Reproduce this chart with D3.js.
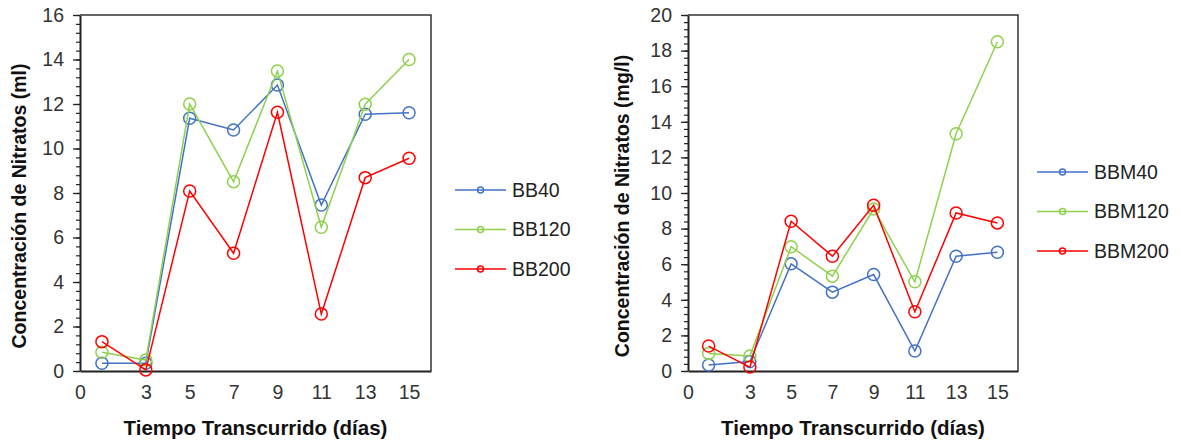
<!DOCTYPE html>
<html>
<head>
<meta charset="utf-8">
<script src="https://cdn.jsdelivr.net/npm/d3@7"></script>
<style>
  body { margin: 0; background: #fff; }
  svg { font-family: "Liberation Sans", Arial, sans-serif; }
</style>
</head>
<body>
<svg id="chart" width="1180" height="442"></svg>
<script>
const days = [1, 3, 5, 7, 9, 11, 13, 15];
const xTickLabels = [0, 3, 5, 7, 9, 11, 13, 15];

// left panel (ml)
const leftNames = ['BB40', 'BB120', 'BB200'];
const bb40 = [0.35, 0.35, 11.36, 10.83, 12.85, 7.46, 11.54, 11.61];
const bb120 = [0.84, 0.49, 12.0, 8.51, 13.48, 6.46, 11.99, 14.0];
const bb200 = [1.32, 0.05, 8.09, 5.29, 11.63, 2.56, 8.69, 9.56];
const leftYTicks = [0, 2, 4, 6, 8, 10, 12, 14, 16];

// right panel (mg/l)
const rightNames = ['BBM40', 'BBM120', 'BBM200'];
const bbm40 = [0.34, 0.53, 6.02, 4.43, 5.42, 1.12, 6.45, 6.67];
const bbm120 = [0.99, 0.84, 6.98, 5.33, 9.1, 5.01, 13.33, 18.5];
const bbm200 = [1.40, 0.22, 8.41, 6.45, 9.31, 3.33, 8.88, 8.32];
const rightYTicks = [0, 2, 4, 6, 8, 10, 12, 14, 16, 18, 20];

const colors = ['#4472C4', '#8FD14F', '#FF0000'];

const svg = d3.select('#chart');

const drawPanel = (cfg) => {
    const { left, right, top, bottom, yMax, yTicks, series, names, yTitle, titleX, legendX, legendY } = cfg;

    const x = d3.scaleLinear().domain([0, 16]).range([left, right]);
    const y = d3.scaleLinear().domain([0, yMax]).range([bottom, top]);

    const g = svg.append('g');

    // minor ticks every 0.4
    const minor = d3.range(0, yMax + 0.001, 0.4);
    g.append('g')
        .attr('transform', `translate(${left},0)`)
        .call(d3.axisLeft(y).tickValues(minor).tickSize(4).tickFormat(''))
        .call(a => a.select('.domain').remove())
        .selectAll('line').attr('stroke', '#222').attr('stroke-width', 1.2);

    const yAxis = g.append('g')
        .attr('transform', `translate(${left},0)`)
        .call(d3.axisLeft(y).tickValues(yTicks).tickSize(7).tickPadding(9).tickSizeOuter(0));
    yAxis.select('.domain').attr('stroke', '#222').attr('stroke-width', 2);
    yAxis.selectAll('line').attr('stroke', '#222').attr('stroke-width', 1.3);
    yAxis.selectAll('text')
        .attr('font-size', 19.5)
        .attr('fill', '#333')
        .attr('font-family', '"Liberation Sans", Arial, sans-serif');

    const xAxis = g.append('g')
        .attr('transform', `translate(0,${bottom})`)
        .call(d3.axisBottom(x).tickValues(xTickLabels).tickSize(0).tickPadding(14).tickSizeOuter(0));
    xAxis.select('.domain').attr('stroke', '#222').attr('stroke-width', 2);
    xAxis.selectAll('text')
        .attr('font-size', 19.5)
        .attr('fill', '#333')
        .attr('font-family', '"Liberation Sans", Arial, sans-serif');

    // frame top/right
    g.append('path')
        .attr('d', `M${left},${top}H${right}V${bottom}`)
        .attr('fill', 'none')
        .attr('stroke', '#333')
        .attr('stroke-width', 1.5);

    const line = d3.line()
        .x((d, i) => x(days[i]))
        .y(d => y(d));

    series.forEach((vals, k) => {
        g.append('path')
            .datum(vals)
            .attr('d', line)
            .attr('fill', 'none')
            .attr('stroke', colors[k])
            .attr('stroke-width', 1.5);
        g.append('g')
            .selectAll('circle')
            .data(vals)
            .join('circle')
            .attr('cx', (d, i) => x(days[i]))
            .attr('cy', d => y(d))
            .attr('r', 6)
            .attr('fill', 'none')
            .attr('stroke', colors[k])
            .attr('stroke-width', 1.5);
    });

    // axis titles
    g.append('text')
        .attr('transform', `translate(${titleX},${(top + bottom) / 2 + 13}) rotate(-90)`)
        .attr('text-anchor', 'middle')
        .attr('font-size', 19.5)
        .attr('font-weight', 'bold')
        .attr('fill', '#111')
        .text(yTitle);

    g.append('text')
        .attr('x', (left + right) / 2)
        .attr('y', 435)
        .attr('text-anchor', 'middle')
        .attr('font-size', 20.5)
        .attr('font-weight', 'bold')
        .attr('fill', '#111')
        .text('Tiempo Transcurrido (días)');

    // legend
    const leg = g.append('g')
        .selectAll('g')
        .data(names)
        .join('g')
        .attr('transform', (d, i) => `translate(${legendX},${legendY + i * 39.5})`);
    leg.append('line')
        .attr('x1', 0).attr('x2', 51)
        .attr('stroke', (d, i) => colors[i])
        .attr('stroke-width', 1.5);
    leg.append('circle')
        .attr('cx', 25.5).attr('r', 3)
        .attr('fill', 'none')
        .attr('stroke', (d, i) => colors[i])
        .attr('stroke-width', 1.5);
    leg.append('text')
        .attr('x', 57)
        .attr('dy', '0.35em')
        .attr('font-size', 19.5)
        .attr('fill', '#222')
        .text(d => d);
};

drawPanel({
    left: 80, right: 431, top: 15, bottom: 371,
    yMax: 16, yTicks: leftYTicks,
    series: [bb40, bb120, bb200], names: leftNames,
    yTitle: 'Concentración de Nitratos (ml)', titleX: 26,
    legendX: 455, legendY: 190
});

drawPanel({
    left: 688, right: 1018, top: 15, bottom: 371,
    yMax: 20, yTicks: rightYTicks,
    series: [bbm40, bbm120, bbm200], names: rightNames,
    yTitle: 'Concentración de Nitratos (mg/l)', titleX: 629,
    legendX: 1037, legendY: 172
});
</script>
</body>
</html>
